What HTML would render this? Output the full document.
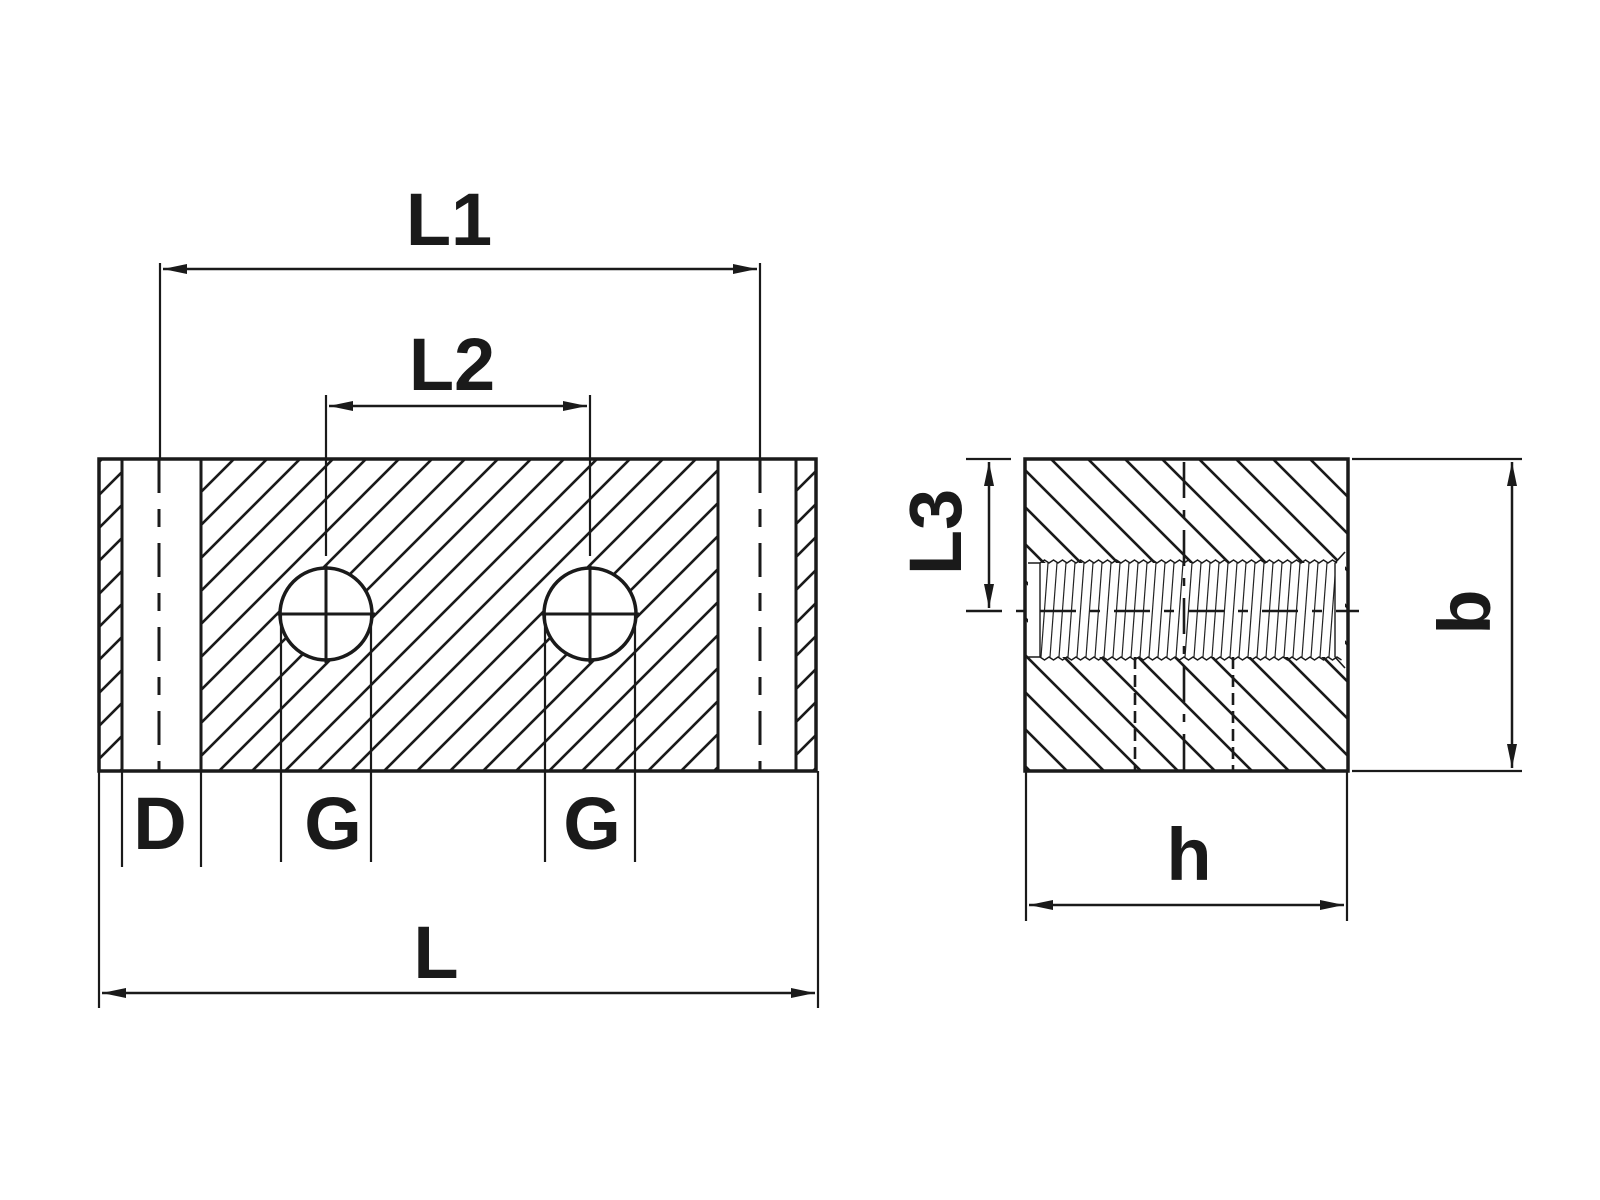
<!DOCTYPE html>
<html><head><meta charset="utf-8"><style>html,body{margin:0;padding:0;background:#fff}svg{display:block}</style></head>
<body>
<svg width="1600" height="1200" viewBox="0 0 1600 1200" xmlns="http://www.w3.org/2000/svg" font-family="Liberation Sans, sans-serif" font-weight="bold">
<defs>
<pattern id="h1" patternUnits="userSpaceOnUse" width="33" height="33">
<path d="M-5,38 L38,-5 M-5,5 L5,-5 M28,38 L38,28" stroke="#1a1a1a" stroke-width="2.6"/>
</pattern>
<pattern id="h2" patternUnits="userSpaceOnUse" width="37" height="37">
<path d="M-5,-5 L42,42 M-5,32 L5,42 M32,-5 L42,5" stroke="#1a1a1a" stroke-width="2.6"/>
</pattern>
<pattern id="th" patternUnits="userSpaceOnUse" x="1040" y="563" width="9" height="94">
<line x1="8" y1="0" x2="1" y2="94" stroke="#222" stroke-width="1.2"/>
</pattern>
<marker id="a" viewBox="0 0 24 10" refX="24" refY="5" markerWidth="24" markerHeight="10" markerUnits="userSpaceOnUse" orient="auto-start-reverse">
<path d="M0,0 L24,5 L0,10 Z" fill="#1a1a1a"/>
</marker>
</defs>
<g stroke="#1a1a1a" fill="none">
<!-- left view hatches -->
<rect x="99" y="459" width="23" height="312" fill="url(#h1)" stroke="none"/>
<rect x="201" y="459" width="517" height="312" fill="url(#h1)" stroke="none"/>
<rect x="796" y="459" width="20" height="312" fill="url(#h1)" stroke="none"/>
<circle cx="326" cy="614" r="46" fill="#fff" stroke-width="3.5"/>
<circle cx="590" cy="614" r="46" fill="#fff" stroke-width="3.5"/>
<path d="M281,614 L281,862 M371,614 L371,862 M545,614 L545,862 M635,614 L635,862" stroke-width="2.2"/>
<path d="M277,614 H375 M326,565 V663 M541,614 H639 M590,565 V663" stroke-width="3"/>
<rect x="99" y="459" width="717" height="312" stroke-width="3.5"/>
<path d="M122,459 V771 M201,459 V771 M718,459 V771 M796,459 V771" stroke-width="3"/>
<path d="M159,459 V771 M760,459 V771" stroke-width="3" stroke-dasharray="34,16,18,16"/>
<!-- L1, L2 -->
<path d="M160,263 V459 M760,263 V459" stroke-width="2.2"/>
<line x1="163" y1="269" x2="757" y2="269" stroke-width="2.5" marker-start="url(#a)" marker-end="url(#a)"/>
<path d="M326,395 V556 M590,395 V556" stroke-width="2.2"/>
<line x1="329" y1="406" x2="587" y2="406" stroke-width="2.5" marker-start="url(#a)" marker-end="url(#a)"/>
<!-- bottom dims -->
<path d="M99,771 V1008 M818,771 V1008 M122,771 V867 M201,771 V867" stroke-width="2.2"/>
<line x1="102" y1="993" x2="815" y2="993" stroke-width="2.5" marker-start="url(#a)" marker-end="url(#a)"/>
<!-- right view -->
<rect x="1025" y="459" width="323" height="312" fill="url(#h2)" stroke="none"/>
<path d="M1028,563 L1040,563 L1040,657 L1028,657 Z M1335,563 L1345,552 L1345,668 L1335,657 Z" fill="#fff" stroke="none"/>
<rect x="1040" y="563" width="295" height="94" fill="#fff" stroke="none"/>
<rect x="1040" y="563" width="295" height="94" fill="url(#th)" stroke="none"/>
<path d="M1040,563 l4.5,-3 l4.5,3 l4.5,-3 l4.5,3 l4.5,-3 l4.5,3 l4.5,-3 l4.5,3 l4.5,-3 l4.5,3 l4.5,-3 l4.5,3 l4.5,-3 l4.5,3 l4.5,-3 l4.5,3 l4.5,-3 l4.5,3 l4.5,-3 l4.5,3 l4.5,-3 l4.5,3 l4.5,-3 l4.5,3 l4.5,-3 l4.5,3 l4.5,-3 l4.5,3 l4.5,-3 l4.5,3 l4.5,-3 l4.5,3 l4.5,-3 l4.5,3 l4.5,-3 l4.5,3 l4.5,-3 l4.5,3 l4.5,-3 l4.5,3 l4.5,-3 l4.5,3 l4.5,-3 l4.5,3 l4.5,-3 l4.5,3 l4.5,-3 l4.5,3 l4.5,-3 l4.5,3 l4.5,-3 l4.5,3 l4.5,-3 l4.5,3 l4.5,-3 l4.5,3 l4.5,-3 l4.5,3 l4.5,-3 l4.5,3 l4.5,-3 l4.5,3 l4.5,-3 l4.5,3 l4.5,-3 l4.5,3 M1040,657 l4.5,3 l4.5,-3 l4.5,3 l4.5,-3 l4.5,3 l4.5,-3 l4.5,3 l4.5,-3 l4.5,3 l4.5,-3 l4.5,3 l4.5,-3 l4.5,3 l4.5,-3 l4.5,3 l4.5,-3 l4.5,3 l4.5,-3 l4.5,3 l4.5,-3 l4.5,3 l4.5,-3 l4.5,3 l4.5,-3 l4.5,3 l4.5,-3 l4.5,3 l4.5,-3 l4.5,3 l4.5,-3 l4.5,3 l4.5,-3 l4.5,3 l4.5,-3 l4.5,3 l4.5,-3 l4.5,3 l4.5,-3 l4.5,3 l4.5,-3 l4.5,3 l4.5,-3 l4.5,3 l4.5,-3 l4.5,3 l4.5,-3 l4.5,3 l4.5,-3 l4.5,3 l4.5,-3 l4.5,3 l4.5,-3 l4.5,3 l4.5,-3 l4.5,3 l4.5,-3 l4.5,3 l4.5,-3 l4.5,3 l4.5,-3 l4.5,3 l4.5,-3 l4.5,3 l4.5,-3 l4.5,3 l4.5,-3 l4.5,3 M1040,563 V657 M1335,563 V657" stroke-width="1.4"/>
<path d="M1028,563 L1040,563 M1028,657 L1040,657 M1335,563 L1345,552 M1335,657 L1345,668" stroke-width="1.6"/>
<rect x="1025" y="459" width="323" height="312" stroke-width="3.5"/>
<path d="M1184,462 V771" stroke-width="2.6" stroke-dasharray="36,12,8,12"/>
<path d="M1135,657 V771 M1233,657 V771" stroke-width="2.6" stroke-dasharray="12,6"/>
<path d="M966,611 H1359" stroke-width="2.4" stroke-dasharray="36,14,10,14"/>
<!-- right dims -->
<path d="M966,459 H1011 M1352,459 H1522 M1352,771 H1522" stroke-width="2.2"/>
<line x1="989" y1="462" x2="989" y2="608" stroke-width="2.5" marker-start="url(#a)" marker-end="url(#a)"/>
<line x1="1512" y1="462" x2="1512" y2="768" stroke-width="2.5" marker-start="url(#a)" marker-end="url(#a)"/>
<path d="M1026,771 V921 M1347,771 V921" stroke-width="2.2"/>
<line x1="1029" y1="905" x2="1344" y2="905" stroke-width="2.5" marker-start="url(#a)" marker-end="url(#a)"/>
</g>
<g fill="#1a1a1a" font-size="74" text-anchor="middle">
<text x="449" y="245">L1</text>
<text x="452" y="390">L2</text>
<text x="160" y="849">D</text>
<text x="333" y="849">G</text>
<text x="592" y="849">G</text>
<text x="436" y="978">L</text>
<text x="1189" y="880">h</text>
<text transform="translate(961,532) rotate(-90)">L3</text>
<text transform="translate(1490,612) rotate(-90)">b</text>
</g>
</svg>
</body></html>
